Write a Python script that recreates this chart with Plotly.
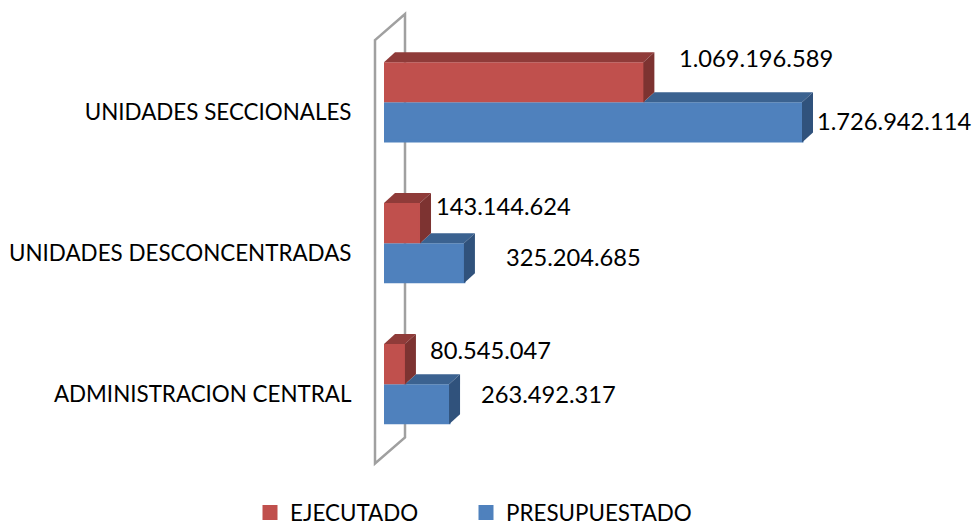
import plotly.graph_objects as go

categories = ["ADMINISTRACION CENTRAL", "UNIDADES DESCONCENTRADAS", "UNIDADES SECCIONALES"]
ejecutado = [80545047, 143144624, 1069196589]
presupuestado = [263492317, 325204685, 1726942114]
ejecutado_labels = ["80.545.047", "143.144.624", "1.069.196.589"]
presupuestado_labels = ["263.492.317", "325.204.685", "1.726.942.114"]

# layout geometry
W, H = 974, 527
PLOT_H = 490  # the legend reserves the strip below this
STROKE = 3
X0_PX = 384 + STROKE / 2
LEFT_MARGIN = 366
PX_PER_UNIT = (802 - X0_PX) / 1726942114
CAT_PX = 140.5
Y0_PX = 383
BAR_PX = 40
DX_PX, DY_PX = 11, 10
TICK_DROP_PX = 10
FONT = "Lato"
FS_NUM, FS_CAT = 23.7, 22.4

def xv(px):
    return (px - X0_PX) / PX_PER_UNIT

def yv(py):
    return (Y0_PX - py) / CAT_PX

dx = DX_PX / PX_PER_UNIT
dy = DY_PX / CAT_PX
bh = BAR_PX / CAT_PX
x_left = xv(384)

RED, BLUE = "#C0504D", "#4F81BD"
RED_TOP, RED_SIDE = "#8F3B39", "#7D3331"
BLUE_TOP, BLUE_SIDE = "#3B6290", "#30527C"

fig = go.Figure()
fig.add_bar(name="PRESUPUESTADO", y=list(range(3)), x=presupuestado, orientation="h", legend="legend2",
            marker=dict(color=BLUE, line=dict(width=STROKE, color=BLUE)), hoverinfo="x+name")
fig.add_bar(name="EJECUTADO", y=list(range(3)), x=ejecutado, orientation="h", legend="legend",
            marker=dict(color=RED, line=dict(width=STROKE, color=RED)), hoverinfo="x+name")

def face(xs, ys, color):
    fig.add_scatter(x=xs + xs[:1], y=ys + ys[:1], mode="lines", fill="toself", fillcolor=color,
                    line=dict(width=0, color=color), showlegend=False, hoverinfo="skip")

for i in range(3):
    yb_top = i
    yb_bot = i - bh
    r, b = ejecutado[i], presupuestado[i]
    # the blue top is hidden by the red front up to the red value
    face([r, r + dx, b + dx, b], [yb_top, yb_top + dy, yb_top + dy, yb_top], BLUE_TOP)
    face([b, b + dx, b + dx, b], [yb_top, yb_top + dy, yb_bot + dy, yb_bot], BLUE_SIDE)
    yr_top = i + bh
    yr_bot = i
    face([x_left, x_left + dx, r + dx, r], [yr_top, yr_top + dy, yr_top + dy, yr_top], RED_TOP)
    face([r, r + dx, r + dx, r], [yr_top, yr_top + dy, yr_bot + dy, yr_bot], RED_SIDE)

wall = [(375, 40), (405, 14), (405, 436), (375, 462)]
path = "M " + " L ".join(f"{xv(a)},{yv(b)}" for a, b in wall) + " Z"
fig.add_shape(type="path", path=path, xref="x", yref="y", layer="below",
              line=dict(color="#A0A0A0", width=2.5))

# value labels
red_off = [(23.5, -14), (14, -17), (34, -24)]
blue_off = [(30, -10), (40, -6), (13, -1)]
for i in range(3):
    fig.add_annotation(x=ejecutado[i], y=i + bh / 2, text=ejecutado_labels[i], showarrow=False,
                       xanchor="left", xshift=red_off[i][0], yshift=-red_off[i][1],
                       font=dict(family=FONT, size=FS_NUM))
    fig.add_annotation(x=presupuestado[i], y=i - bh / 2, text=presupuestado_labels[i], showarrow=False,
                       xanchor="left", xshift=blue_off[i][0], yshift=-blue_off[i][1],
                       font=dict(family=FONT, size=FS_NUM))

legend_common = dict(orientation="h", xref="container", yref="container", xanchor="left",
                     y=14 / H, yanchor="middle", bgcolor="rgba(0,0,0,0)",
                     font=dict(family=FONT, size=FS_CAT))

fig.update_layout(
    width=W, height=H, autosize=False,
    margin=dict(l=LEFT_MARGIN, r=0, t=0, b=0, pad=0),
    paper_bgcolor="white", plot_bgcolor="white",
    font=dict(family=FONT, size=FS_CAT, color="#000000"),
    barmode="group", bargap=1 - 2 * BAR_PX / CAT_PX, bargroupgap=STROKE / BAR_PX,
    showlegend=True,
    legend=dict(x=250 / W, **legend_common),
    legend2=dict(x=466 / W, **legend_common),
    xaxis=dict(range=[xv(LEFT_MARGIN), xv(W)], visible=False, fixedrange=True),
    yaxis=dict(range=[yv(PLOT_H), yv(0)], tickmode="array",
               tickvals=[i - TICK_DROP_PX / CAT_PX for i in range(3)], ticktext=categories,
               showgrid=False, zeroline=False, showline=False, ticks="outside", ticklen=9,
               tickcolor="rgba(0,0,0,0)", fixedrange=True),
)
fig.write_html("out.html", config=dict(displayModeBar=False),
               post_script="document.body.style.margin='0';")
